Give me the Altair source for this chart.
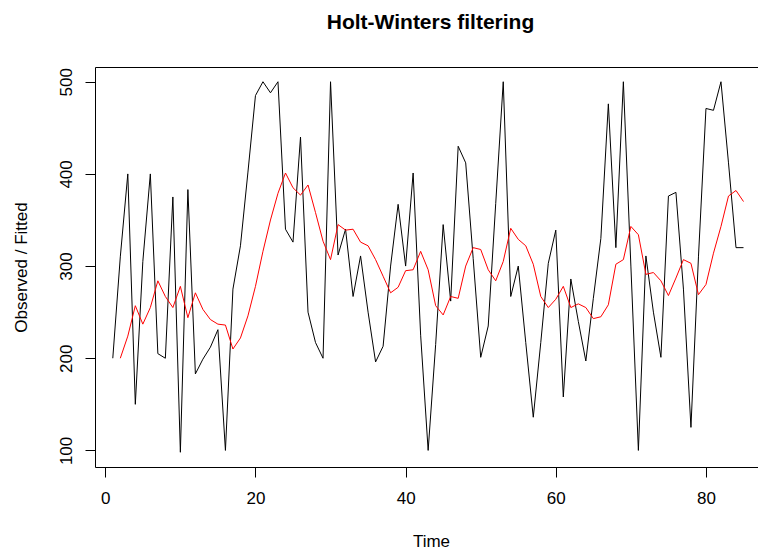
import altair as alt
import pandas as pd

# Observed series, t = 1..85
time_obs = list(range(1, 86))
observed = [200, 310, 400, 150, 305, 400, 205, 200, 375, 98,
            383, 183, 199, 212, 231, 100, 275, 322, 402, 485,
            500, 488, 500, 340, 326, 440, 250, 217, 200, 500,
            312, 340, 267, 311, 250, 196, 213, 300, 367, 300,
            401, 225, 100, 215, 345, 262, 430, 412, 308, 201,
            235, 368, 500, 267, 300, 217, 136, 217, 303, 339,
            158, 286, 240, 197, 265, 330, 476, 320, 500, 300,
            100, 311, 250, 201, 376, 380, 275, 125, 310, 471,
            469, 500, 412, 320, 320]

# Fitted (Holt-Winters level), t = 2..85
time_fit = list(range(2, 86))
fitted = [200, 224, 257, 237, 255, 284, 267, 255, 278, 244,
          271, 253, 242, 237, 236, 210, 222, 246, 278, 316,
          350, 379, 401, 385, 377, 388, 358, 327, 307, 345,
          339, 340, 326, 322, 307, 289, 271, 277, 295, 296,
          316, 296, 257, 247, 267, 265, 300, 320, 318, 296,
          284, 305, 341, 329, 322, 302, 267, 255, 264, 278,
          255, 259, 255, 243, 245, 258, 302, 307, 343, 334,
          291, 293, 284, 268, 287, 307, 303, 269, 280, 314,
          343, 376, 382, 370]

x_ticks = [0, 20, 40, 60, 80]
y_ticks = [100, 200, 300, 400, 500]

obs_df = pd.DataFrame({"t": time_obs, "v": observed})
fit_df = pd.DataFrame({"t": time_fit, "v": fitted})

FONT = "Liberation Sans"

x_enc = alt.X(
    "t:Q",
    scale=alt.Scale(domain=[-1.37, 86.93], nice=False, zero=False),
    axis=alt.Axis(
        values=x_ticks, title="Time", domain=False, grid=False,
        tickSize=10, tickColor="black", labelColor="black",
        labelFont=FONT, labelFontSize=17, labelPadding=13,
        titleFont=FONT, titleFontSize=17, titleFontWeight="normal",
        titleColor="black", titleX=336, titleY=74,
        titleBaseline="middle", titleAlign="center",
    ),
)
y_enc = alt.Y(
    "v:Q",
    scale=alt.Scale(domain=[82, 516], nice=False, zero=False),
    axis=alt.Axis(
        values=y_ticks, title="Observed / Fitted", domain=False, grid=False,
        tickSize=10, tickColor="black", labelColor="black",
        labelFont=FONT, labelFontSize=17, labelPadding=14,
        labelAngle=-90, labelAlign="center", labelBaseline="alphabetic",
        titleFont=FONT, titleFontSize=17, titleFontWeight="normal",
        titleColor="black", titleAngle=-90, titleX=-74, titleY=200,
        titleBaseline="middle", titleAlign="center",
    ),
)

obs_line = alt.Chart(obs_df).mark_line(color="black", strokeWidth=1).encode(x=x_enc, y=y_enc)
fit_line = alt.Chart(fit_df).mark_line(color="red", strokeWidth=1).encode(x="t:Q", y="v:Q")

chart = (
    alt.layer(obs_line, fit_line)
    .properties(
        width=663,
        height=400,
        autosize=alt.AutoSizeParams(type="none"),
        padding={"left": 95, "top": 67, "right": 0, "bottom": 84},
        title=alt.TitleParams(
            "Holt-Winters filtering", font=FONT, fontSize=21, fontWeight="bold",
            color="black", anchor="middle", dx=4, offset=13, baseline="bottom",
        ),
    )
    .configure(background="white")
    .configure_view(stroke="black", strokeWidth=1)
)

chart.save("out.html", embed_options={"renderer": "svg", "actions": False})
